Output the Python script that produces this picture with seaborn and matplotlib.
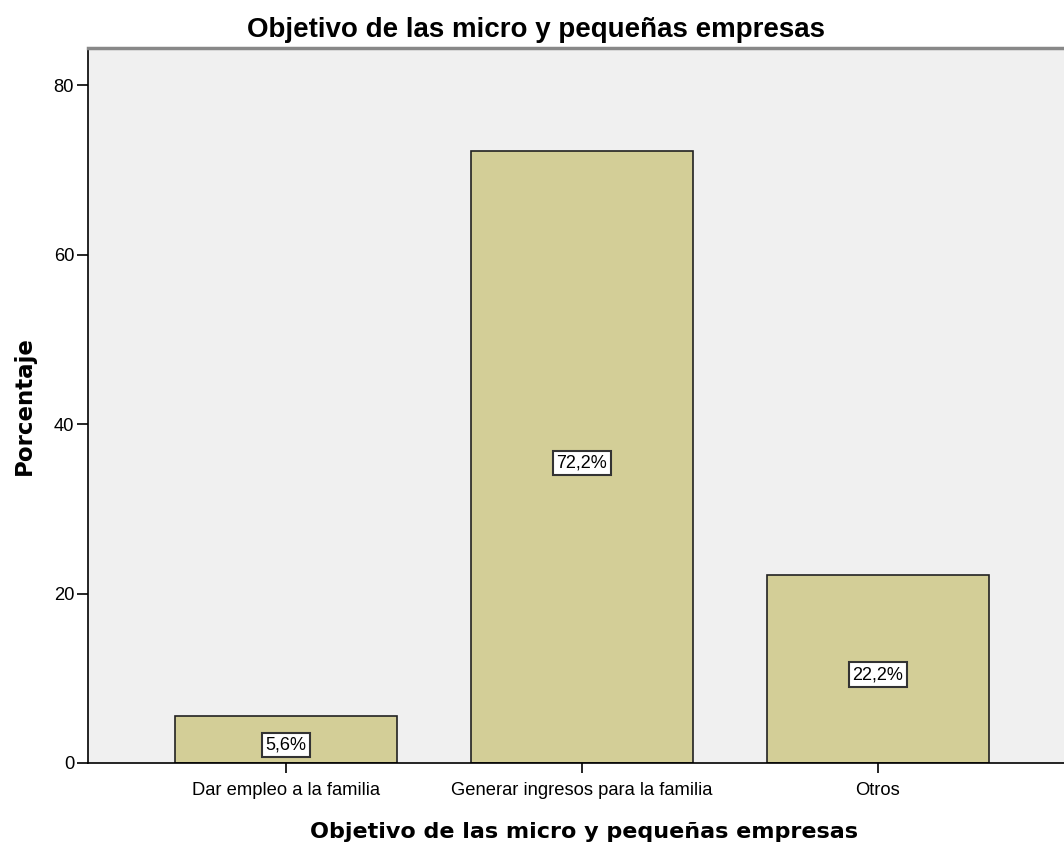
import pandas as pd
import matplotlib
matplotlib.use("Agg")
import matplotlib.pyplot as plt
import seaborn as sns

# data
categorias = ["Dar empleo a la familia", "Generar ingresos para la familia", "Otros"]
porcentajes = [5.6, 72.2, 22.2]
etiquetas = ["5,6%", "72,2%", "22,2%"]

df = pd.DataFrame({"categoria": categorias, "porcentaje": porcentajes})

sns.set_style("white")
plt.rcParams["font.family"] = ["Liberation Sans", "DejaVu Sans"]
plt.rcParams["text.color"] = "black"
plt.rcParams["axes.labelcolor"] = "black"
plt.rcParams["xtick.color"] = "black"
plt.rcParams["ytick.color"] = "black"

fig = plt.figure(figsize=(10.64, 8.43), dpi=100)
ax = fig.add_axes([0.0827, 0.0949, 0.9173, 0.848])

sns.barplot(data=df, x="categoria", y="porcentaje", color="#D3CE97",
            saturation=1, width=0.75, edgecolor="#222222", linewidth=1.2, ax=ax)

ax.set_facecolor("#F0F0F0")
ax.set_xlim(-0.67, 2.63)
ax.set_ylim(0, 84.4)
ax.set_yticks([0, 20, 40, 60, 80])

# value boxes in the middle of each bar
for i, (v, t) in enumerate(zip(porcentajes, etiquetas)):
    ax.annotate(t, (i, v / 2), xytext=(0, -4), textcoords="offset points",
                ha="center", va="center", fontsize=13,
                bbox=dict(boxstyle="square,pad=0.2", facecolor="white",
                          edgecolor="#333333", linewidth=1.5))

for s in ["left", "bottom"]:
    ax.spines[s].set_color("black")
    ax.spines[s].set_linewidth(1.2)
ax.spines["right"].set_visible(False)
ax.spines["top"].set_color("#888888")
ax.spines["top"].set_linewidth(2.5)

ax.tick_params(axis="both", direction="out", width=1.2, color="black",
               labelsize=13.2, left=True, bottom=True)
ax.tick_params(axis="y", length=8, pad=2)
ax.tick_params(axis="x", length=7, pad=7)

ax.set_xlabel("Objetivo de las micro y pequeñas empresas", fontsize=16,
              fontweight="bold", family="DejaVu Sans")
ax.xaxis.set_label_coords(0.508, -0.082)
ax.set_ylabel("Porcentaje", fontsize=16.5, fontweight="bold",
              family="DejaVu Sans", labelpad=13)
fig.text(0.504, 0.965, "Objetivo de las micro y pequeñas empresas",
         ha="center", va="center", fontsize=20, fontweight="bold")

fig.savefig("out.png", dpi=100)
